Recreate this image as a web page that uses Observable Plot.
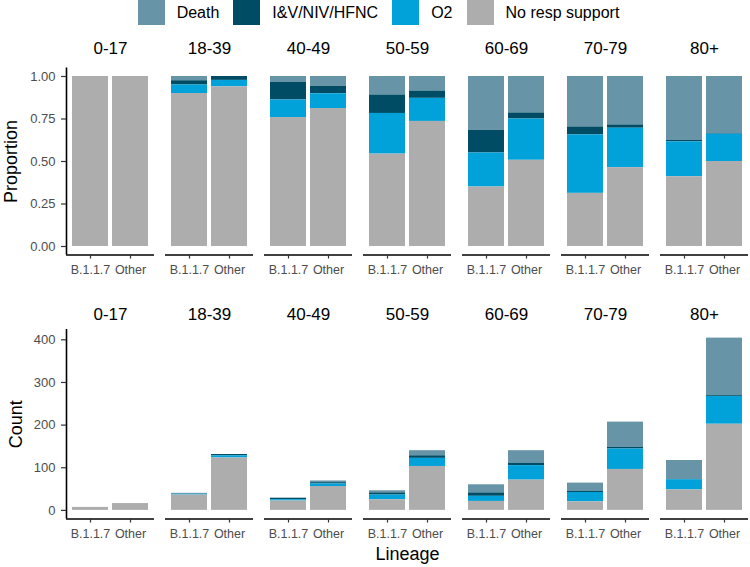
<!DOCTYPE html>
<html><head><meta charset="utf-8">
<script src="https://cdn.jsdelivr.net/npm/d3@7"></script>
<script src="https://cdn.jsdelivr.net/npm/@observablehq/plot@0.6"></script>
<style>
body{margin:0;background:#fff;font-family:"Liberation Sans",Arial,sans-serif;}
#wrap{position:relative;width:750px;height:567px;overflow:hidden;background:#fff}
#legend{position:absolute;top:0;left:0;width:750px;height:25px;display:flex;justify-content:center;align-items:center;font-size:16px;color:#000;padding-left:7px;box-sizing:border-box}
.key{width:27px;height:25px;margin-right:12px;flex:none}
.lab{margin-right:14px;white-space:nowrap}
.lab:last-child{margin-right:0}
#top{position:absolute;top:28px;left:0}
#bot{position:absolute;top:290px;left:0}
#xtitle{position:absolute;left:65px;width:685px;top:544px;line-height:21px;text-align:center;font-size:18px;color:#000}
g[aria-label$="tick label"]{fill:#4d4d4d}
</style>
</head><body>
<div id="wrap">
  <div id="legend"></div>
  <div id="top"></div>
  <div id="bot"></div>
  <div id="xtitle">Lineage</div>
</div>
<script>
const ages = ["0-17","18-39","40-49","50-59","60-69","70-79","80+"];
const lineages = ["B.1.1.7","Other"];
const statuses = ["Death","I&V/NIV/HFNC","O2","No resp support"];
const colors = ["#6794A7","#004C64","#00A2D9","#ADADAD"];
// counts in order: for each age group, [B.1.1.7, Other]
const death  = [0,0, 1,0, 1,4, 5,12, 19,30, 19,59, 44,135];
const ivNiv  = [0,0, 1,3, 3,3, 5,6,  8,5,   3,4,   1,2];
const o2     = [0,0, 2,5, 3,6, 11,19, 12,34, 22,48, 24,65];
const noResp = [7,16, 36,123, 22,56, 25,103, 21,71, 20,96, 48,202];
const propTicks = [0, 0.25, 0.5, 0.75, 1];
const countTicks = [0, 100, 200, 300, 400];

const seriesValues = [death, ivNiv, o2, noResp];
const rows = [];
ages.forEach((age, i) => lineages.forEach((lin, j) => statuses.forEach((s, k) =>
  rows.push({age, lineage: lin, status: s, count: seriesValues[k][i * 2 + j]}))));
const stackOrder = statuses.slice().reverse();
const pos = d => lineages.indexOf(d.lineage) + 1; // discrete position 1, 2
const half = 0.45; // ggplot bar width 0.9

// legend
const leg = document.getElementById("legend");
statuses.forEach((s, k) => {
  const key = document.createElement("div");
  key.className = "key"; key.style.background = colors[k];
  const lab = document.createElement("div");
  lab.className = "lab"; lab.textContent = s;
  leg.appendChild(key); leg.appendChild(lab);
});

const totals = [];
ages.forEach((a, i) => lineages.forEach((l, j) => totals.push(d3.sum(seriesValues, v => v[i * 2 + j]))));
const maxCount = d3.max(totals);

function panel({height, marginTop, marginBottom, normalize, yTicks, yFormat, yDomain, title, titleDx, stripDy}) {
  const stackOpts = normalize ? {offset: "normalize", order: stackOrder} : {order: stackOrder};
  return Plot.plot({
    width: 750, height, marginLeft: 65, marginRight: 0, marginTop, marginBottom,
    style: {fontFamily: "'Liberation Sans', Arial, sans-serif", background: "white", color: "black"},
    fx: {domain: ages, paddingInner: 0.111, paddingOuter: 0, axis: null},
    x: {domain: [0.4, 2.6], axis: null},
    y: {domain: yDomain, axis: null},
    color: {domain: statuses, range: colors},
    marks: [
      Plot.rectY(rows, Plot.stackY(stackOpts, {
        fx: "age", x1: d => pos(d) - half, x2: d => pos(d) + half,
        y: "count", fill: "status"})),
      Plot.ruleY([yDomain[0]], {stroke: "black", strokeWidth: 1.6}),
      Plot.ruleX([0.4], {fx: () => ages[0], stroke: "black", strokeWidth: 1.6}),
      Plot.axisX({ticks: [1, 2], tickFormat: i => lineages[i - 1], tickSize: 4, tickPadding: 6,
        fontSize: 12.5, stroke: "#333", strokeWidth: 1.2, label: null}),
      Plot.axisY({ticks: yTicks, tickFormat: yFormat, tickSize: 5, tickPadding: 6, fontSize: 13,
        stroke: "#333", strokeWidth: 1.2, label: null}),
      Plot.text(ages, {fx: d => d, text: d => d, frameAnchor: "top", dy: stripDy, fontSize: 17,
        lineAnchor: "middle", textAnchor: "middle", fill: "black"}),
      Plot.text([title], {fx: () => ages[0], text: d => d, frameAnchor: "left", dx: titleDx, rotate: -90,
        fontSize: 18, textAnchor: "middle", lineAnchor: "middle", fill: "black"})
    ]
  });
}

document.getElementById("top").appendChild(panel({
  height: 262, marginTop: 39.5, marginBottom: 35.5, normalize: true,
  yTicks: propTicks, yFormat: d3.format(".2f"), yDomain: [-0.05, 1.05],
  title: "Proportion", titleDx: -55, stripDy: -19
}));
document.getElementById("bot").appendChild(panel({
  height: 277, marginTop: 39, marginBottom: 48.5, normalize: false,
  yTicks: countTicks, yFormat: d3.format("d"), yDomain: [-0.05 * maxCount, 1.05 * maxCount],
  title: "Count", titleDx: -50, stripDy: -15
}));
</script>
</body></html>
